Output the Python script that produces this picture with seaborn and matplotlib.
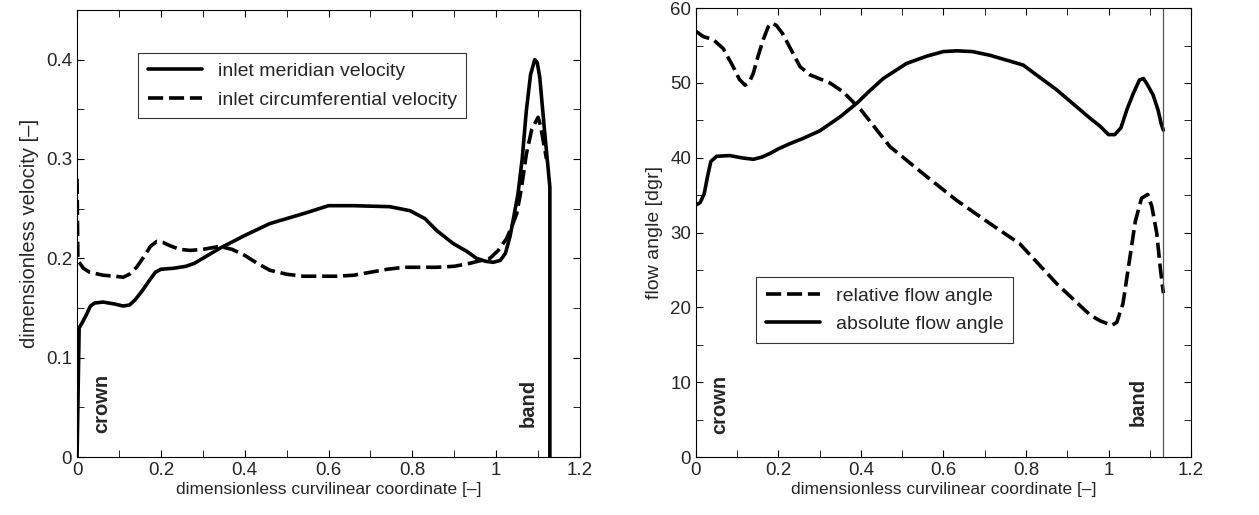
import numpy as np
import pandas as pd
import seaborn as sns
import matplotlib.pyplot as plt
from matplotlib.ticker import MultipleLocator

# left panel: inlet velocities
mer_x = [0.0, 0.005, 0.012, 0.022, 0.032, 0.042, 0.062, 0.09, 0.11, 0.125, 0.138, 0.155, 0.173,
         0.187, 0.2, 0.23, 0.26, 0.28, 0.30, 0.34, 0.40, 0.46, 0.54, 0.60, 0.66, 0.746, 0.794,
         0.83, 0.858, 0.897, 0.93, 0.953, 0.975, 0.993, 1.01, 1.022, 1.033, 1.042, 1.052,
         1.062, 1.072, 1.082, 1.092, 1.098, 1.104, 1.115, 1.128, 1.128]
mer_y = [0.0, 0.13, 0.135, 0.143, 0.152, 0.155, 0.156, 0.154, 0.152, 0.153, 0.158, 0.167, 0.178,
         0.186, 0.189, 0.19, 0.192, 0.195, 0.2, 0.21, 0.223, 0.235, 0.245, 0.253, 0.253, 0.252, 0.248,
         0.24, 0.228, 0.215, 0.207, 0.2, 0.197, 0.196, 0.198, 0.205, 0.222, 0.242, 0.265,
         0.30, 0.349, 0.385, 0.40, 0.397, 0.382, 0.33, 0.272, 0.0]
cir_x = [0.0, 0.002, 0.015, 0.03, 0.062, 0.09, 0.11, 0.125, 0.142, 0.16, 0.175, 0.19, 0.205,
         0.22, 0.245, 0.27, 0.30, 0.34, 0.37, 0.40, 0.43, 0.46, 0.50, 0.54, 0.62, 0.66, 0.70,
         0.74, 0.78, 0.858, 0.90, 0.937, 0.985, 1.005, 1.025, 1.04, 1.049, 1.06, 1.072, 1.085,
         1.10, 1.106, 1.112, 1.12]
cir_y = [0.28, 0.198, 0.19, 0.186, 0.183, 0.182, 0.181, 0.184, 0.191, 0.202, 0.212, 0.217, 0.216,
         0.213, 0.209, 0.208, 0.209, 0.212, 0.209, 0.203, 0.195, 0.188, 0.184, 0.182, 0.182, 0.183, 0.186,
         0.189, 0.191, 0.191, 0.192, 0.195, 0.2, 0.208, 0.22, 0.235, 0.245, 0.27, 0.305, 0.33,
         0.342, 0.333, 0.319, 0.30]

# right panel: flow angles
abs_x = [0.0, 0.01, 0.02, 0.028, 0.036, 0.05, 0.082, 0.11, 0.139, 0.16, 0.18, 0.2, 0.228, 0.26,
         0.30, 0.35, 0.39, 0.42, 0.454, 0.51, 0.56, 0.60, 0.632, 0.67, 0.713, 0.793, 0.874,
         0.955, 0.98, 1.0, 1.015, 1.03, 1.045, 1.06, 1.075, 1.085, 1.095, 1.108, 1.12, 1.128, 1.133]
abs_y = [33.7, 34.0, 35.2, 37.5, 39.5, 40.2, 40.3, 40.0, 39.8, 40.1, 40.6, 41.2, 41.9, 42.6,
         43.6, 45.5, 47.3, 48.9, 50.6, 52.6, 53.6, 54.2, 54.3, 54.2, 53.7, 52.4, 49.1,
         45.3, 44.2, 43.1, 43.1, 44.0, 46.5, 48.6, 50.4, 50.6, 49.7, 48.4, 46.4, 44.5, 43.7]
rel_x = [0.0, 0.018, 0.042, 0.066, 0.09, 0.105, 0.119, 0.13, 0.139, 0.15, 0.163, 0.175, 0.183,
         0.195, 0.21, 0.23, 0.252, 0.276, 0.325, 0.357, 0.40, 0.47, 0.55, 0.632, 0.713, 0.785,
         0.874, 0.955, 0.98, 1.008, 1.02, 1.035, 1.05, 1.065, 1.08, 1.095, 1.105, 1.117, 1.125,
         1.133]
rel_y = [56.9, 56.2, 55.8, 54.6, 52.2, 50.5, 49.7, 50.2, 51.3, 53.5, 55.8, 57.5, 58.0,
         57.7, 56.6, 54.5, 52.2, 51.1, 50.0, 48.8, 46.4, 41.5, 37.9, 34.3, 31.2, 28.5,
         23.2, 19.0, 18.2, 17.6, 18.0, 20.5, 26.0, 31.5, 34.6, 35.1, 33.5, 29.9, 25.5,
         21.9]

sns.set_style("ticks")
plt.rcParams['font.family'] = ['Liberation Sans', 'DejaVu Sans']
plt.rcParams['xtick.direction'] = 'in'
plt.rcParams['ytick.direction'] = 'in'

fig = plt.figure(figsize=(12.59, 5.15), dpi=100)
ax1 = fig.add_axes([0.0612, 0.1126, 0.3995, 0.868])
ax2 = fig.add_axes([0.5528, 0.1126, 0.3932, 0.8715])

lw = 2.6
dash = (4.2, 1.6)
xt = [0, 0.2, 0.4, 0.6, 0.8, 1.0, 1.2]
xtl = ['0', '0.2', '0.4', '0.6', '0.8', '1', '1.2']

sns.lineplot(x=mer_x, y=mer_y, ax=ax1, sort=False, estimator=None, color='black', lw=lw,
             label='inlet meridian velocity')
sns.lineplot(x=cir_x, y=cir_y, ax=ax1, sort=False, estimator=None, color='black', lw=lw,
             label='inlet circumferential velocity')
ax1.lines[1].set_dashes(dash)
ax1.set_xlim(0, 1.2)
ax1.set_ylim(0, 0.45)
ax1.set_xticks(xt)
ax1.set_xticklabels(xtl)
ax1.xaxis.set_minor_locator(MultipleLocator(0.1))
ax1.set_yticks([0, 0.1, 0.2, 0.3, 0.4])
ax1.set_yticklabels(['0', '0.1', '0.2', '0.3', '0.4'])
ax1.yaxis.set_minor_locator(MultipleLocator(0.05))
ax1.set_xlabel('dimensionless curvilinear coordinate [\u2013]', fontsize=12.5, labelpad=2)
ax1.set_ylabel('dimensionless velocity [\u2013]', fontsize=14.5, labelpad=5)
ax1.text(0.058, 0.024, 'crown', rotation=90, fontweight='bold', fontsize=14.5, ha='center', va='bottom')
ax1.text(1.076, 0.03, 'band', rotation=90, fontweight='bold', fontsize=14.5, ha='center', va='bottom')
leg1 = ax1.legend(loc='upper left', bbox_to_anchor=(0.121, 0.904), fontsize=14, frameon=True,
                  fancybox=False, edgecolor='black', handlelength=2.8, borderpad=0.5,
                  labelspacing=0.55, borderaxespad=0)
leg1.get_frame().set_linewidth(0.8)

sns.lineplot(x=rel_x, y=rel_y, ax=ax2, sort=False, estimator=None, color='black', lw=lw,
             label='relative flow angle')
sns.lineplot(x=abs_x, y=abs_y, ax=ax2, sort=False, estimator=None, color='black', lw=lw,
             label='absolute flow angle')
ax2.lines[0].set_dashes(dash)
ax2.axvline(1.133, color='#555555', lw=0.9)
ax2.set_xlim(0, 1.2)
ax2.set_ylim(0, 60)
ax2.set_xticks(xt)
ax2.set_xticklabels(xtl)
ax2.xaxis.set_minor_locator(MultipleLocator(0.1))
ax2.yaxis.set_major_locator(MultipleLocator(10))
ax2.yaxis.set_minor_locator(MultipleLocator(5))
ax2.set_xlabel('dimensionless curvilinear coordinate [\u2013]', fontsize=12.5, labelpad=2)
ax2.set_ylabel('flow angle [dgr]', fontsize=14, labelpad=5)
ax2.text(0.058, 3.1, 'crown', rotation=90, fontweight='bold', fontsize=14.5, ha='center', va='bottom')
ax2.text(1.072, 4.2, 'band', rotation=90, fontweight='bold', fontsize=14.5, ha='center', va='bottom')
leg2 = ax2.legend(loc='upper left', bbox_to_anchor=(0.121, 0.40), fontsize=14, frameon=True,
                  fancybox=False, edgecolor='black', handlelength=2.8, borderpad=0.5,
                  labelspacing=0.55, borderaxespad=0)
leg2.get_frame().set_linewidth(0.8)

for ax in (ax1, ax2):
    ax.tick_params(which='both', top=True, right=True, labelsize=13.5, color='black', length=5)
    for ln in ax.lines:
        ln.set_solid_joinstyle('round')
        ln.set_dash_joinstyle('round')
    for s in ax.spines.values():
        s.set_linewidth(0.8)
        s.set_color('black')

fig.savefig('out.png', dpi=100)
